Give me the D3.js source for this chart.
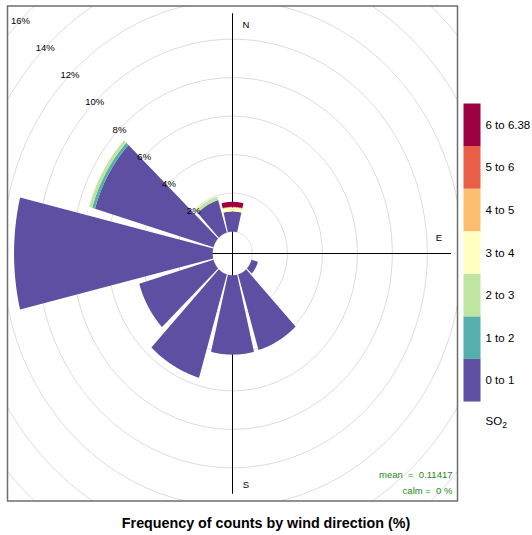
<!DOCTYPE html>
<html>
<head>
<meta charset="utf-8">
<script src="https://cdn.jsdelivr.net/npm/d3@7/dist/d3.min.js"></script>
<style>
  html, body { margin: 0; padding: 0; background: #fff; }
  svg { display: block; font-family: "Liberation Sans", Arial, sans-serif; }
</style>
</head>
<body>
<svg id="chart" width="532" height="535"></svg>
<script>
// Wind directions (degrees, centre of each 30° sector)
const directions = [0, 30, 60, 90, 120, 150, 180, 210, 240, 270, 300, 330];

// SO2 concentration bins (legend order, bottom to top)
const bins = ["0 to 1", "1 to 2", "2 to 3", "3 to 4", "4 to 5", "5 to 6", "6 to 6.38"];
const binColours = ["#5E4FA2", "#55AFAD", "#BFE5A0", "#FFFFBF", "#FDBF6F", "#EA5D47", "#9E0142"];

// Frequency (%) of each bin per direction, in the order of `directions`
const freq0to1 = [1.05, 0, 0, 0, 0.38, 4.1, 4.12, 5.6, 4.42, 11.35, 7.06, 1.76];
const freq1to2 = [0, 0, 0, 0, 0, 0, 0, 0, 0, 0, 0.17, 0];
const freq2to3 = [0, 0, 0, 0, 0, 0, 0, 0, 0, 0, 0.18, 0.18];
const freq3to4 = [0.2, 0, 0, 0, 0, 0, 0, 0, 0, 0, 0, 0];
const freq4to5 = [0.02, 0, 0, 0, 0, 0, 0, 0, 0, 0, 0, 0];
const freq5to6 = [0.02, 0, 0, 0, 0, 0, 0, 0, 0, 0, 0, 0];
const freq6to638 = [0.26, 0, 0, 0, 0, 0, 0, 0, 0, 0, 0, 0];
const series = [freq0to1, freq1to2, freq2to3, freq3to4, freq4to5, freq5to6, freq6to638];

// Grid ring labels (%) that fall inside the panel
const ringLabels = [2, 4, 6, 8, 10, 12, 14, 16];

const meanText = "mean  =  0.11417";
const calmText = "calm =  0 %";
const titleText = "Frequency of counts by wind direction (%)";

const svg = d3.select("#chart");

// Panel frame
const panel = { left: 7.5, right: 457.5, top: 6, bottom: 501 };

const totals = directions.map((_, i) => d3.sum(series, s => s[i]));
const maxFreq = d3.max(totals);
const offSet = maxFreq * 0.10;              // central hole
const lim = 1.03 * (maxFreq + offSet);

const x = d3.scaleLinear().domain([-lim, lim]).range([panel.left, panel.right]);
const y = d3.scaleLinear().domain([-lim, lim]).range([panel.bottom, panel.top]);

svg.append("defs").append("clipPath").attr("id", "panelClip")
  .append("rect")
  .attr("x", panel.left).attr("y", panel.top)
  .attr("width", panel.right - panel.left).attr("height", panel.bottom - panel.top);

const plot = svg.append("g").attr("clip-path", "url(#panelClip)");

// polar (compass degrees, radius in %) -> pixel
const toXY = (deg, r) => {
  const t = deg * Math.PI / 180;
  return [x(r * Math.sin(t)), y(r * Math.cos(t))];
};
const line = d3.line();

// Grid rings
const ringRadii = d3.range(offSet, 2 * maxFreq, 2);
ringRadii.forEach(r => {
  const pts = d3.range(0, 361, 2).map(a => toXY(a, r));
  plot.append("path").attr("d", line(pts))
    .attr("fill", "none").attr("stroke", "#DCDCDC").attr("stroke-width", 1);
});

// Axes through the centre
plot.append("line")
  .attr("x1", x(0)).attr("x2", x(0))
  .attr("y1", y(maxFreq + offSet)).attr("y2", y(-(maxFreq + offSet)))
  .attr("stroke", "#000").attr("stroke-width", 1);
plot.append("line")
  .attr("x1", x(-(maxFreq + offSet))).attr("x2", x(maxFreq + offSet))
  .attr("y1", y(0)).attr("y2", y(0))
  .attr("stroke", "#000").attr("stroke-width", 1);

// Compass labels
const compass = [
  { t: "N", px: 0.068 * maxFreq, py: 1.048 * maxFreq },
  { t: "E", px: 1.04 * maxFreq, py: 0.072 * maxFreq },
  { t: "S", px: 0.068 * maxFreq, py: -1.058 * maxFreq }
];
plot.selectAll("text.compass").data(compass).enter().append("text")
  .attr("class", "compass")
  .attr("x", d => x(d.px)).attr("y", d => y(d.py))
  .attr("text-anchor", "middle").attr("dominant-baseline", "central")
  .attr("font-size", 9.5).attr("fill", "#000")
  .text(d => d.t);

// Stacked sector bars
const half = 13.5;
directions.forEach((dir, i) => {
  let cum = 0;
  series.forEach((s, b) => {
    const v = s[i];
    if (v <= 0) return;
    const r1 = offSet + cum, r2 = offSet + cum + v;
    cum += v;
    const angs = d3.range(dir - half, dir + half + 0.001, 0.5);
    const pts = angs.map(a => toXY(a, r1)).concat(angs.slice().reverse().map(a => toXY(a, r2)));
    plot.append("path").attr("d", line(pts) + "Z")
      .attr("fill", binColours[b]).attr("stroke", "none");
  });
});

// Ring labels along the 315° direction
plot.selectAll("text.ring").data(ringLabels).enter().append("text")
  .attr("class", "ring")
  .attr("x", d => toXY(315, d + offSet)[0])
  .attr("y", d => toXY(315, d + offSet)[1])
  .attr("text-anchor", "middle").attr("dominant-baseline", "central")
  .attr("font-size", 9.5).attr("fill", "#000")
  .text(d => d + "%");

// Summary statistics
svg.append("text").attr("x", panel.right - 5).attr("y", 478)
  .attr("text-anchor", "end").attr("font-size", 9.5).attr("fill", "#228B22")
  .attr("xml:space", "preserve").style("white-space", "pre")
  .text(meanText);
svg.append("text").attr("x", panel.right - 5).attr("y", 494)
  .attr("text-anchor", "end").attr("font-size", 9.5).attr("fill", "#228B22")
  .attr("xml:space", "preserve").style("white-space", "pre")
  .text(calmText);

// Panel border
svg.append("rect")
  .attr("x", panel.left).attr("y", panel.top)
  .attr("width", panel.right - panel.left).attr("height", panel.bottom - panel.top)
  .attr("fill", "none").attr("stroke", "#6E6E6E").attr("stroke-width", 1.5);

// Legend
const legend = { x: 463.5, width: 17, top: 103.5, bottom: 401.5 };
const ly = d3.scaleBand().domain(bins.slice().reverse()).range([legend.top, legend.bottom]).padding(0);
const lg = svg.append("g");
lg.selectAll("rect").data(bins).enter().append("rect")
  .attr("x", legend.x).attr("y", d => ly(d))
  .attr("width", legend.width).attr("height", ly.bandwidth())
  .attr("fill", (d, i) => binColours[i]);
lg.selectAll("text").data(bins).enter().append("text")
  .attr("x", legend.x + legend.width + 5)
  .attr("y", d => ly(d) + ly.bandwidth() / 2)
  .attr("dominant-baseline", "central")
  .attr("font-size", 11.5).attr("fill", "#000")
  .text(d => d);

const so2 = lg.append("text").attr("x", legend.x + legend.width + 5).attr("y", 425)
  .attr("font-size", 11.5).attr("fill", "#000");
so2.append("tspan").text("SO");
so2.append("tspan").attr("font-size", 8.5).attr("dy", 3).text("2");

// Title
svg.append("text").attr("x", 266).attr("y", 528)
  .attr("text-anchor", "middle").attr("font-size", 14.3).attr("font-weight", "bold")
  .attr("fill", "#000").text(titleText);
</script>
</body>
</html>
